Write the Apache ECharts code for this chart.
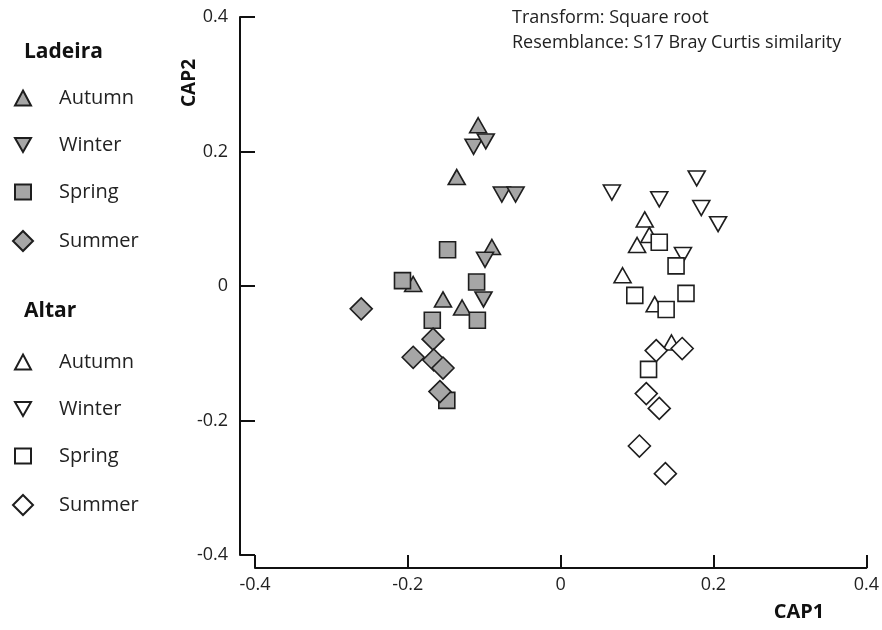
<!DOCTYPE html>
<html>
<head>
<meta charset="utf-8">
<script src="https://cdn.jsdelivr.net/npm/echarts@6/dist/echarts.min.js"></script>
<style>html,body{margin:0;padding:0;background:#fff}#c{width:882px;height:630px}</style>
</head>
<body>
<div id="c"></div>
<script>
// ---- Data (CAP1, CAP2) ----
const ladeiraAutumn = [[-0.108,0.239],[-0.136,0.162],[-0.090,0.058],[-0.193,0.003],[-0.154,-0.020],[-0.129,-0.032]];
const ladeiraWinter = [[-0.114,0.207],[-0.098,0.215],[-0.077,0.136],[-0.059,0.136],[-0.099,0.039],[-0.101,-0.020]];
const ladeiraSpring = [[-0.148,0.054],[-0.207,0.008],[-0.110,0.006],[-0.168,-0.051],[-0.109,-0.051],[-0.149,-0.170]];
const ladeiraSummer = [[-0.261,-0.034],[-0.167,-0.079],[-0.193,-0.106],[-0.166,-0.110],[-0.154,-0.122],[-0.158,-0.157]];
const altarAutumn = [[0.110,0.099],[0.116,0.076],[0.100,0.061],[0.081,0.016],[0.123,-0.027],[0.145,-0.084]];
const altarWinter = [[0.067,0.139],[0.178,0.160],[0.129,0.129],[0.184,0.116],[0.206,0.092],[0.160,0.046]];
const altarSpring = [[0.129,0.065],[0.151,0.030],[0.097,-0.014],[0.164,-0.011],[0.138,-0.035],[0.115,-0.124]];
const altarSummer = [[0.125,-0.096],[0.159,-0.093],[0.112,-0.160],[0.129,-0.182],[0.103,-0.238],[0.137,-0.279]];
const seasons = ['Autumn','Winter','Spring','Summer'];
const xTicks = [-0.4,-0.2,0,0.2,0.4];
const yTicks = [-0.4,-0.2,0,0.2,0.4];

const FONT = '"Open Sans", "Noto Sans", sans-serif';
const GRAY = '#a6a6a6';
const STROKE = '#1e1e1e';
const downTri = 'path://M0,0L20,0L10,17.5Z';
const symbols = {Autumn:'triangle', Winter:downTri, Spring:'rect', Summer:'diamond'};
const sizes = {Autumn:[17,15], Winter:[17,15], Spring:[16,16], Summer:[22,22]};

function mk(site, season, data, fill){
  return {
    name: site + ' ' + season,
    type: 'scatter',
    data: data,
    symbol: symbols[season],
    symbolSize: sizes[season],
    itemStyle: {color: fill, borderColor: STROKE, borderWidth: 1.6, opacity: 1},
    emphasis: {disabled: true}
  };
}
const ladeiraData = [ladeiraAutumn, ladeiraWinter, ladeiraSpring, ladeiraSummer];
const altarData = [altarAutumn, altarWinter, altarSpring, altarSummer];
const series = [];
seasons.forEach((s,i)=>series.push(mk('Ladeira', s, ladeiraData[i], GRAY)));
seasons.forEach((s,i)=>series.push(mk('Altar', s, altarData[i], '#ffffff')));

function legendFor(site, names, top, left, w, h, pad){
  return {
    orient: 'vertical', left: left, top: top,
    itemWidth: w, itemHeight: h, itemGap: 27,
    selectedMode: false,
    data: names.map(s => ({name: site + ' ' + s})),
    formatter: n => n.split(' ')[1],
    textStyle: {fontFamily: FONT, fontSize: 20, color: '#222', lineHeight: 20, padding: [0,0,0,pad]}
  };
}

const chart = echarts.init(document.getElementById('c'), null, {renderer: 'canvas'});
chart.setOption({
  animation: false,
  backgroundColor: '#fff',
  grid: {left: 255, right: 15, top: 17, bottom: 75},
  xAxis: {
    type: 'value', min: xTicks[0], max: xTicks[xTicks.length-1], interval: 0.2, offset: 13,
    axisLine: {onZero: false, lineStyle: {color: '#111', width: 2}},
    axisTick: {inside: true, length: 13, lineStyle: {color: '#111', width: 2}},
    splitLine: {show: false},
    axisLabel: {fontFamily: FONT, fontSize: 18, color: '#222', margin: 8}
  },
  yAxis: {
    type: 'value', min: yTicks[0], max: yTicks[yTicks.length-1], interval: 0.2, offset: 15,
    axisLine: {onZero: false, lineStyle: {color: '#111', width: 2}},
    axisTick: {inside: true, length: 15, lineStyle: {color: '#111', width: 2}},
    splitLine: {show: false},
    axisLabel: {fontFamily: FONT, fontSize: 18, color: '#222', margin: 12}
  },
  legend: [
    legendFor('Ladeira', seasons.slice(0,3), 83, 9, 16, 15, 23),
    legendFor('Ladeira', seasons.slice(3), 225, 7, 20, 20, 21),
    legendFor('Altar', seasons.slice(0,3), 347, 9, 16, 15, 23),
    legendFor('Altar', seasons.slice(3), 489, 7, 20, 20, 21)
  ],
  graphic: [
    {type: 'text', x: 24, y: 52, style: {text: 'Ladeira', font: 'bold 21px ' + FONT, fill: '#111', verticalAlign: 'middle'}},
    {type: 'text', x: 24, y: 311, style: {text: 'Altar', font: 'bold 21px ' + FONT, fill: '#111', verticalAlign: 'middle'}},
    {type: 'text', x: 190, y: 83, rotation: Math.PI/2, style: {text: 'CAP2', font: 'bold 19px ' + FONT, fill: '#111', align: 'center', verticalAlign: 'middle'}},
    {type: 'text', x: 799, y: 612, style: {text: 'CAP1', font: 'bold 20px ' + FONT, fill: '#111', align: 'center', verticalAlign: 'middle'}},
    {type: 'text', x: 512, y: 18, style: {text: 'Transform: Square root', font: '18px ' + FONT, fill: '#222', verticalAlign: 'middle'}},
    {type: 'text', x: 512, y: 43, style: {text: 'Resemblance: S17 Bray Curtis similarity', font: '18px ' + FONT, fill: '#222', verticalAlign: 'middle'}}
  ],
  series: series
});
</script>
</body>
</html>
